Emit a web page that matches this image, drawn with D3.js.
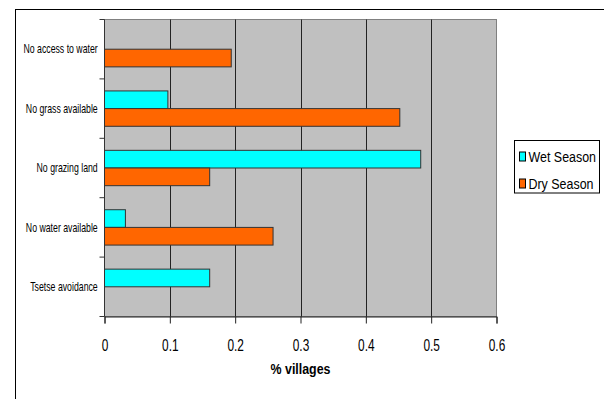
<!DOCTYPE html>
<html>
<head>
<meta charset="utf-8">
<script src="https://cdn.jsdelivr.net/npm/d3@7"></script>
<style>
  html, body { margin: 0; padding: 0; background: #fff; }
  svg { display: block; font-family: "Liberation Sans", Arial, sans-serif; }
</style>
</head>
<body>
<svg id="chart" width="604" height="399"></svg>
<script>
// Reasons given for moving herds, share of villages by season
const categories = ["No access to water", "No grass available", "No grazing land", "No water available", "Tsetse avoidance"];
const seasons = ["Wet Season", "Dry Season"];
const wetValues = [0, 0.097, 0.484, 0.032, 0.161];
const dryValues = [0.194, 0.452, 0.161, 0.258, 0];
const xTicks = [0, 0.1, 0.2, 0.3, 0.4, 0.5, 0.6];
const xTitle = "% villages";
const seasonColors = ["#00FFFF", "#FF6600"];

const svg = d3.select("#chart");

// chart-area frame
svg.append("rect")
  .attr("x", 15.5).attr("y", 9.5)
  .attr("width", 700).attr("height", 500)
  .attr("fill", "#fff").attr("stroke", "#000").attr("stroke-width", 1);

const plot = { left: 104.5, right: 496.5, top: 19.5, bottom: 316.5 };

const x = d3.scaleLinear().domain([0, 0.6]).range([plot.left, plot.right]);
const y = d3.scaleBand().domain(categories).range([plot.top, plot.bottom]).padding(0);
const ySeason = d3.scaleBand().domain(seasons).range([0, y.bandwidth()])
  .paddingInner(0).paddingOuter(0.68);

// plot background
svg.append("rect")
  .attr("x", plot.left).attr("y", plot.top)
  .attr("width", plot.right - plot.left).attr("height", plot.bottom - plot.top)
  .attr("fill", "#C0C0C0").attr("stroke", "#808080").attr("stroke-width", 1);

// vertical gridlines
svg.append("g").selectAll("line")
  .data(xTicks.filter(t => t > 0 && t < 0.6))
  .join("line")
  .attr("x1", d => Math.round(x(d)) + 0.5).attr("x2", d => Math.round(x(d)) + 0.5)
  .attr("y1", plot.top).attr("y2", plot.bottom)
  .attr("stroke", "#222").attr("stroke-width", 1);

// bars
const rows = categories.map((c, i) => ({
  category: c,
  values: [
    { season: seasons[0], value: wetValues[i] },
    { season: seasons[1], value: dryValues[i] }
  ]
}));

svg.append("g").selectAll("g")
  .data(rows)
  .join("g")
  .attr("transform", d => `translate(0,${y(d.category)})`)
  .selectAll("rect")
  .data(d => d.values.filter(v => v.value > 0))
  .join("rect")
  .attr("x", x(0))
  .attr("y", d => ySeason(d.season))
  .attr("width", d => x(d.value) - x(0))
  .attr("height", ySeason.bandwidth())
  .attr("fill", d => seasonColors[seasons.indexOf(d.season)])
  .attr("stroke", "#333").attr("stroke-width", 1);

// x axis
const xAxis = svg.append("g")
  .attr("transform", `translate(0,${plot.bottom})`)
  .call(d3.axisBottom(x).tickValues(xTicks).tickFormat(d => String(d)).tickSizeOuter(0).tickSize(7));
xAxis.select(".domain").attr("stroke", "#222");
xAxis.selectAll(".tick line").attr("stroke", "#222");
xAxis.selectAll(".tick text")
  .attr("y", 34.5).attr("dy", null)
  .attr("font-size", 16.5)
  .attr("font-family", "Liberation Sans, Arial, sans-serif")
  .attr("fill", "#000")
  .attr("transform", "scale(0.72,1)");

// y axis: labels at band centres, tick marks at band boundaries
const yAxis = svg.append("g")
  .attr("transform", `translate(${plot.left},0)`)
  .call(d3.axisLeft(y).tickSize(0).tickPadding(0));
yAxis.select(".domain").remove();
yAxis.selectAll(".tick text")
  .attr("x", -6.8 / 0.70)
  .attr("dy", "0.34em")
  .attr("font-size", 12.5)
  .attr("font-family", "Liberation Sans, Arial, sans-serif")
  .attr("fill", "#000")
  .attr("transform", "scale(0.70,1)");

svg.append("line")
  .attr("x1", plot.left).attr("x2", plot.left)
  .attr("y1", plot.top).attr("y2", plot.bottom)
  .attr("stroke", "#333").attr("stroke-width", 1);

const bounds = categories.map(c => y(c)).concat([plot.bottom]);
svg.append("g").selectAll("line")
  .data(bounds)
  .join("line")
  .attr("x1", plot.left - 5).attr("x2", plot.left)
  .attr("y1", d => d).attr("y2", d => d)
  .attr("stroke", "#333").attr("stroke-width", 1);

// x axis title
svg.append("text")
  .attr("transform", `translate(${(plot.left + plot.right) / 2},374) scale(0.8,1)`)
  .attr("text-anchor", "middle")
  .attr("font-size", 15.5)
  .attr("font-weight", "bold")
  .text(xTitle);

// legend
const legend = svg.append("g");
legend.append("rect")
  .attr("x", 514.5).attr("y", 140.5)
  .attr("width", 85).attr("height", 52.5)
  .attr("fill", "#fff").attr("stroke", "#000").attr("stroke-width", 1);

const legendItems = legend.selectAll("g.item")
  .data(seasons)
  .join("g")
  .attr("class", "item")
  .attr("transform", (d, i) => `translate(0,${i * 27})`);
legendItems.append("rect")
  .attr("x", 519.5).attr("y", 152)
  .attr("width", 6).attr("height", 9)
  .attr("fill", (d, i) => seasonColors[i])
  .attr("stroke", "#000").attr("stroke-width", 1);
legendItems.append("text")
  .attr("transform", "translate(528.5,161.5) scale(0.83,1)")
  .attr("font-size", 15)
  .attr("fill", "#000")
  .text(d => d);
</script>
</body>
</html>
